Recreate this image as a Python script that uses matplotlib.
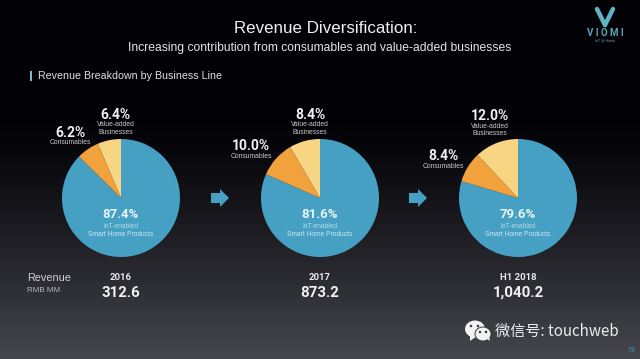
import numpy as np
import matplotlib
matplotlib.use("Agg")
import matplotlib.pyplot as plt
from matplotlib.patches import Ellipse, Polygon, Rectangle

# -----------------------------
# Data
# -----------------------------
periods = ["2016", "2017", "H1 2018"]
revenue = ["312.6", "873.2", "1,040.2"]
iot_share = [87.4, 81.6, 79.6]
consumables_share = [6.2, 10.0, 8.4]
value_added_share = [6.4, 8.4, 12.0]

BLUE = "#45a0c4"
ORANGE = "#f2a23c"
YELLOW = "#f8d582"
SANS = ["Liberation Sans", "DejaVu Sans"]
DIN = ["Roboto", "DejaVu Sans"]
H = 359.0

# layout in picture pixels (y measured from the top)
centers_x = [121, 320, 518]
center_y = 198
radius = 59
cons_label_pos = [(70, 133), (251, 146.5), (443.5, 156)]
val_label_pos = [(115.5, 115), (310, 115), (490, 116.5)]


def Y(y):
    return H - y


def label(ax, x, y, s, size, color="white", weight="normal", family=SANS, **kw):
    ax.text(x, Y(y), s, fontsize=size, color=color, fontweight=weight, family=family,
            ha=kw.pop("ha", "center"), va=kw.pop("va", "center"), **kw)


def draw_arrow(ax, x, y):
    pts = [(x, y - 5), (x + 9, y - 5), (x + 9, y - 9), (x + 18, y), (x + 9, y + 9), (x + 9, y + 5), (x, y + 5)]
    ax.add_patch(Polygon([(a, Y(b)) for a, b in pts], closed=True, color=BLUE, lw=0, zorder=3))


def draw_logo(ax):
    # V mark
    ax.plot([597, 605], [Y(9), Y(25)], color="#5fb3c4", lw=3.2, solid_capstyle="round")
    ax.plot([613, 605], [Y(9), Y(25)], color="#5fb3c4", lw=3.2, solid_capstyle="round")
    label(ax, 605, 33.5, "V I O M I", 7, color="#58a6b4", weight="bold", family=DIN)
    label(ax, 605, 40, "IoT @ Home", 2.6, color="#58a6b4")


def draw_wechat(ax):
    ax.add_patch(Ellipse((475, Y(329)), 20, 17, color="#f2f2f2", lw=0, zorder=4))
    ax.add_patch(Polygon([(470, Y(335)), (470, Y(341)), (477, Y(336))], color="#f2f2f2", lw=0, zorder=4))
    ax.add_patch(Ellipse((483, Y(334)), 17, 15, color="#3a3a40", lw=0, zorder=4))
    ax.add_patch(Ellipse((483, Y(334)), 15, 13, color="#f2f2f2", lw=0, zorder=5))
    ax.add_patch(Polygon([(486, Y(338)), (490, Y(341)), (489, Y(336))], color="#f2f2f2", lw=0, zorder=5))
    for x, y, c in [(471, 326, "#333338"), (478, 326, "#333338"), (480, 332, "#333338"), (486, 332, "#333338")]:
        ax.add_patch(Ellipse((x, Y(y)), 2.5, 2.5, color=c, lw=0, zorder=6))


# -----------------------------
# Figure
# -----------------------------
fig = plt.figure(figsize=(6.4, 3.59), dpi=100)
ax = fig.add_axes([0, 0, 1, 1])

# dark backdrop, lighter towards the bottom
grad = np.clip((np.linspace(0, 1, 359) - 0.33) / 0.67, 0, 1) ** 1.25
c0, c1 = np.array([2, 2, 6]), np.array([70, 70, 78])
bg = (c0 + (c1 - c0) * grad[:, None]) / 255.0
ax.imshow(bg[:, None, :], extent=[0, 640, 0, 359], aspect="auto", origin="upper", zorder=0)

for i in range(3):
    ax.pie([iot_share[i], consumables_share[i], value_added_share[i]],
           colors=[BLUE, ORANGE, YELLOW], startangle=90, counterclock=False,
           center=(centers_x[i], Y(center_y)), radius=radius, frame=True,
           wedgeprops={"linewidth": 0, "zorder": 2})

    x = centers_x[i]
    label(ax, x, 215, f"{iot_share[i]:.1f}%", 9.5, weight="bold", family=DIN, color="#e8f4f8", zorder=5)
    label(ax, x, 227, "IoT-enabled", 4.8, color="#b5dbe8", zorder=5)
    label(ax, x, 234, "Smart Home Products", 4.8, color="#cfe7ef", zorder=5)

    cx, cy = cons_label_pos[i]
    label(ax, cx, cy, f"{consumables_share[i]:.1f}%", 10, weight="bold", family=DIN, color="#f0f0f0")
    label(ax, cx, cy + 10, "Consumables", 4.9, color="#c8c8c8")

    vx, vy = val_label_pos[i]
    label(ax, vx, vy, f"{value_added_share[i]:.1f}%", 10, weight="bold", family=DIN, color="#f0f0f0")
    label(ax, vx, vy + 10, "Value-added", 4.9, color="#c8c8c8")
    label(ax, vx, vy + 17, "Businesses", 4.9, color="#c8c8c8")

    label(ax, x, 277, periods[i], 6.8, weight="bold", family=DIN, color="#e8e8e8")
    label(ax, x, 293, revenue[i], 10.8, weight="bold", family=DIN, color="#f2f2f2")

draw_arrow(ax, 211, 198)
draw_arrow(ax, 409, 198)

# titles
label(ax, 326, 28.5, "Revenue Diversification:", 12.2, color="#f0f0f0")
label(ax, 320, 47.5, "Increasing contribution from consumables and value-added businesses", 8.7, color="#e4e4e4")
ax.add_patch(Rectangle((29.5, Y(81)), 2.5, 10.5, color="#7fb8c8", lw=0))
label(ax, 38.5, 76, "Revenue Breakdown by Business Line", 7.7, color="#e0e0e0", ha="left")

label(ax, 27, 278, "Revenue", 7.8, color="#d0d0d0", ha="left")
label(ax, 27, 291, "RMB MM", 5.8, color="#b8b8b8", ha="left")

draw_logo(ax)
draw_wechat(ax)
label(ax, 495, 331, "微信号: touchweb", 10.9, color="#ececec", ha="left",
      family=["Noto Sans CJK SC", "DejaVu Sans"], zorder=6)
label(ax, 632, 350, "73", 5, color="#3f7f88", weight="bold")

ax.set_xlim(0, 640)
ax.set_ylim(0, 359)
ax.set_aspect("auto")
ax.axis("off")

fig.savefig("out.png", dpi=100)
